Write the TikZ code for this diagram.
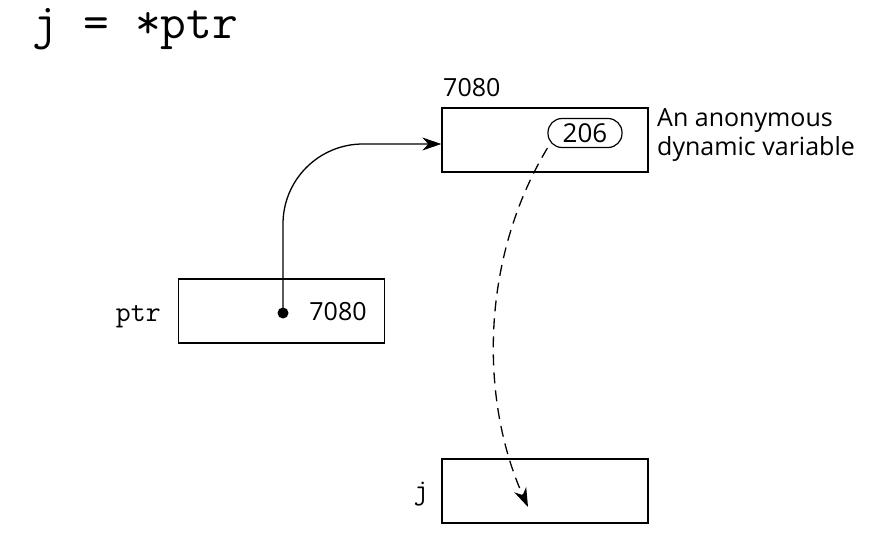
\documentclass[tikz,border=0pt]{standalone}
\usepackage{fontspec}
\setmainfont{Open Sans}
\usetikzlibrary{arrows.meta}
\begin{document}
\begin{tikzpicture}[x=1pt,y=-1pt,
  cell/.style={draw, line width=1.3pt, minimum width=206pt, minimum height=64pt, inner sep=0pt},
  oval/.style={draw, line width=1.2pt, rounded corners=14pt, minimum width=74pt, minimum height=29pt, inner sep=0pt, font=\fontsize{26}{28}\selectfont},
  lbl/.style={font=\fontsize{25}{29}\selectfont, inner sep=0pt},
  code/.style={font=\ttfamily\fontsize{29}{30}\selectfont, inner sep=0pt},
  arr/.style={line width=1.3pt, -{Stealth[length=19pt,width=13pt,inset=6pt]}}]
\useasboundingbox (0,0) rectangle (877,535);

% statement
\node[font=\ttfamily\fontsize{50}{52}\selectfont, anchor=base west, inner sep=0pt] (stmt) at (32,38) {j = *ptr};

% heap cell holding the anonymous dynamic variable
\node[cell] (dyn) at (545,140) {};
\node[lbl, anchor=south west] (addr) at (443,97) {7080};
\node[oval] (val) at (585,133) {206};
\node[lbl, align=left, anchor=west] (note) at (657,135) {An anonymous\\dynamic variable};

% pointer variable
\node[cell] (ptrbox) at (281.5,311) {};
\node[code, anchor=base east] (ptrname) at (161,321) {ptr};
\node[circle, fill, inner sep=0pt, minimum size=11pt] (dot) at (283,313) {};
\node[lbl] (ptrval) at (338,312) {7080};

% target variable j
\node[cell] (jbox) at (545,491) {};
\node[code, anchor=base] (jname) at (421,499) {j};
\coordinate (jtip) at (528,507);

% ptr points to the heap cell
\draw[arr, rounded corners=80pt] (dot.center) |- ([yshift=-4pt]dyn.west);

% dereference copies the value into j
\draw[arr, dash pattern=on 11pt off 7pt] (val.south west) .. controls (480,260) and (480,400) .. (jtip);
\end{tikzpicture}
\end{document}
